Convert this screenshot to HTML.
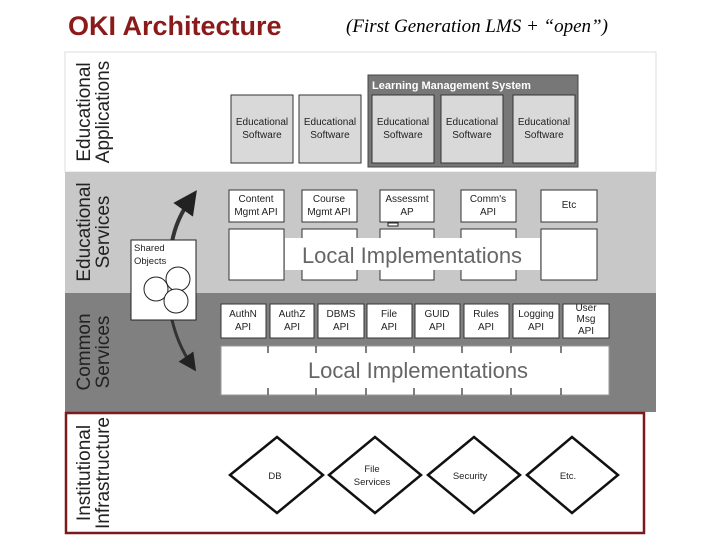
<!DOCTYPE html>
<html><head><style>body{margin:0;background:#fff}svg{display:block}</style></head><body>
<svg width="720" height="540" viewBox="0 0 720 540" xmlns="http://www.w3.org/2000/svg" font-family="Liberation Sans, sans-serif">
<defs><marker id="ah" markerWidth="6" markerHeight="6" refX="3" refY="3" orient="auto"><path d="M0,0 L6,3 L0,6 z" fill="#222"/></marker></defs>
<text x="68" y="35" font-size="27" font-weight="bold" fill="#8b1a1a">OKI Architecture</text>
<text x="346" y="32" font-size="19" font-style="italic" font-family="Liberation Serif, serif" fill="#000">(First Generation LMS + “open”)</text>
<!-- bands -->
<rect x="65" y="52" width="591" height="120" fill="#fff" stroke="#ddd"/>
<rect x="65" y="172" width="591" height="121" fill="#c8c8c8"/>
<rect x="65" y="293" width="591" height="119" fill="#808080"/>
<rect x="66" y="413" width="578" height="120" fill="#fff" stroke="#7a1a1a" stroke-width="2.5"/>
<g font-size="19" fill="#222">
<text transform="translate(90,112) rotate(-90)" text-anchor="middle">Educational</text>
<text transform="translate(109,112) rotate(-90)" text-anchor="middle">Applications</text>
<text transform="translate(90,232) rotate(-90)" text-anchor="middle">Educational</text>
<text transform="translate(109,232) rotate(-90)" text-anchor="middle">Services</text>
<text transform="translate(90,352) rotate(-90)" text-anchor="middle">Common</text>
<text transform="translate(109,352) rotate(-90)" text-anchor="middle">Services</text>
<text transform="translate(90,473) rotate(-90)" text-anchor="middle">Institutional</text>
<text transform="translate(109,473) rotate(-90)" text-anchor="middle">Infrastructure</text>
</g>
<!-- LMS -->
<rect x="368" y="75" width="210" height="92" fill="#777" stroke="#444"/>
<text x="372" y="89" font-size="11" font-weight="bold" fill="#fff">Learning Management System</text>
<g font-size="10" fill="#222" text-anchor="middle">
<rect x="231" y="95" width="62" height="68" fill="#d9d9d9" stroke="#333"/><text x="262" y="125">Educational</text><text x="262" y="138">Software</text>
<rect x="299" y="95" width="62" height="68" fill="#d9d9d9" stroke="#333"/><text x="330" y="125">Educational</text><text x="330" y="138">Software</text>
<rect x="372" y="95" width="62" height="68" fill="#d9d9d9" stroke="#333"/><text x="403" y="125">Educational</text><text x="403" y="138">Software</text>
<rect x="441" y="95" width="62" height="68" fill="#d9d9d9" stroke="#333"/><text x="472" y="125">Educational</text><text x="472" y="138">Software</text>
<rect x="513" y="95" width="62" height="68" fill="#d9d9d9" stroke="#333"/><text x="544" y="125">Educational</text><text x="544" y="138">Software</text>
</g>
<!-- Ed services -->
<g font-size="10" fill="#222" text-anchor="middle" stroke-width="1">
<rect x="229" y="190" width="55" height="32" fill="#fff" stroke="#333"/><text x="256" y="202">Content</text><text x="256" y="215">Mgmt API</text>
<rect x="302" y="190" width="55" height="32" fill="#fff" stroke="#333"/><text x="329" y="202">Course</text><text x="329" y="215">Mgmt API</text>
<rect x="380" y="190" width="54" height="32" fill="#fff" stroke="#333"/><text x="407" y="202">Assessmt</text><text x="407" y="215">AP</text>
<rect x="461" y="190" width="55" height="32" fill="#fff" stroke="#333"/><text x="488" y="202">Comm's</text><text x="488" y="215">API</text>
<rect x="541" y="190" width="56" height="32" fill="#fff" stroke="#333"/><text x="569" y="208">Etc</text>
<rect x="229" y="229" width="55" height="51" fill="#fff" stroke="#333"/>
<rect x="302" y="229" width="55" height="51" fill="#fff" stroke="#333"/>
<rect x="380" y="229" width="54" height="51" fill="#fff" stroke="#333"/>
<rect x="461" y="229" width="55" height="51" fill="#fff" stroke="#333"/>
<rect x="541" y="229" width="56" height="51" fill="#fff" stroke="#333"/>
</g>
<path d="M388 223 h10 v3 h-10z" fill="#fff" stroke="#222"/>
<rect x="285" y="238" width="255" height="32" fill="#fff"/>
<text x="412" y="263" font-size="22" fill="#666" text-anchor="middle">Local Implementations</text>
<!-- common services -->
<g font-size="10" fill="#222" text-anchor="middle">
<rect x="221" y="304" width="45" height="34" fill="#fff" stroke="#333"/><text x="243" y="317">AuthN</text><text x="243" y="330">API</text>
<rect x="270" y="304" width="44" height="34" fill="#fff" stroke="#333"/><text x="292" y="317">AuthZ</text><text x="292" y="330">API</text>
<rect x="318" y="304" width="46" height="34" fill="#fff" stroke="#333"/><text x="341" y="317">DBMS</text><text x="341" y="330">API</text>
<rect x="367" y="304" width="45" height="34" fill="#fff" stroke="#333"/><text x="389" y="317">File</text><text x="389" y="330">API</text>
<rect x="415" y="304" width="45" height="34" fill="#fff" stroke="#333"/><text x="437" y="317">GUID</text><text x="437" y="330">API</text>
<rect x="464" y="304" width="45" height="34" fill="#fff" stroke="#333"/><text x="486" y="317">Rules</text><text x="486" y="330">API</text>
<rect x="513" y="304" width="46" height="34" fill="#fff" stroke="#333"/><text x="536" y="317">Logging</text><text x="536" y="330">API</text>
<rect x="563" y="304" width="46" height="34" fill="#fff" stroke="#333"/><text x="586" y="311">User</text><text x="586" y="322">Msg</text><text x="586" y="334">API</text>
</g>
<rect x="221" y="346" width="388" height="49" fill="#fff" stroke="#999"/>
<g stroke="#555" stroke-width="1.5">
<path d="M268 346v7M316 346v7M366 346v7M414 346v7M462 346v7M511 346v7M561 346v7M268 395v-7M316 395v-7M366 395v-7M414 395v-7M462 395v-7M511 395v-7M561 395v-7"/>
</g>
<text x="418" y="378" font-size="22" fill="#666" text-anchor="middle">Local Implementations</text>
<!-- shared objects and arrows -->
<path d="M172 242 Q176 220 190 200" stroke="#333" stroke-width="4" fill="none" marker-end="url(#ah)"/>
<path d="M172 320 Q178 345 191 364" stroke="#333" stroke-width="3" fill="none" marker-end="url(#ah)"/>
<rect x="131" y="240" width="65" height="80" fill="#fff" stroke="#222"/>
<text x="134" y="251" font-size="9.5" fill="#222">Shared</text>
<text x="134" y="264" font-size="9.5" fill="#222">Objects</text>
<g fill="#fff" stroke="#222"><circle cx="178" cy="279" r="12"/><circle cx="156" cy="289" r="12"/><circle cx="176" cy="301" r="12"/></g>
<!-- diamonds -->
<g fill="#fff" stroke="#111" stroke-width="2.5">
<path d="M230 475 L277 437 L323 475 L277 513z"/>
<path d="M329 475 L375 437 L421 475 L375 513z"/>
<path d="M428 475 L474 437 L520 475 L474 513z"/>
<path d="M527 475 L572 437 L618 475 L572 513z"/>
</g>
<g font-size="9.5" fill="#222" text-anchor="middle">
<text x="275" y="479">DB</text>
<text x="372" y="472">File</text><text x="372" y="485">Services</text>
<text x="470" y="479">Security</text>
<text x="568" y="479">Etc.</text>
</g>
</svg>
</body></html>
